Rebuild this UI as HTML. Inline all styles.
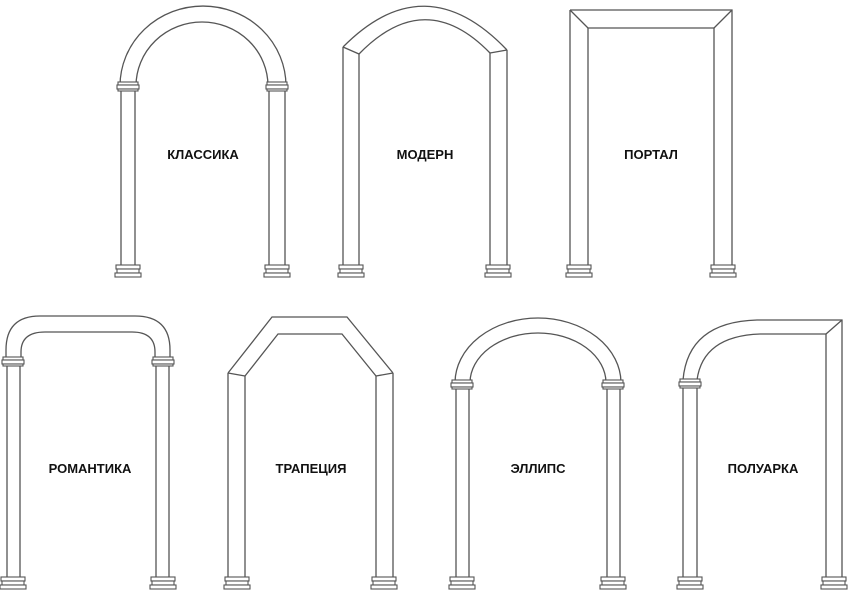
<!DOCTYPE html>
<html><head><meta charset="utf-8"><style>
html,body{margin:0;padding:0;background:#fff;width:850px;height:590px;overflow:hidden}
text{font-family:"Liberation Sans",Arial,sans-serif;font-weight:bold;font-size:13px;fill:#111}
</style></head><body>
<svg width="850" height="590" viewBox="0 0 850 590" xmlns="http://www.w3.org/2000/svg">
<defs>
<g id="base" fill="#fff" stroke="#555" stroke-width="1.1">
<rect x="-12" y="0" width="24" height="4"/>
<rect x="-11" y="4" width="22" height="4"/>
<rect x="-13" y="8" width="26" height="4"/>
</g>
<g id="cap" fill="#fff" stroke="#555" stroke-width="1.1">
<rect x="-10" y="0" width="20" height="3"/>
<rect x="-11" y="3" width="22" height="4"/>
<rect x="-10" y="7" width="20" height="2"/>
</g>
</defs>
<g fill="none" stroke="#555" stroke-width="1.3">
<path d="M120 86 A83 80 0 0 1 286 86"/>
<path d="M136 86 A66 64 0 0 1 268 86"/>
<path d="M121 90 V265 M135 90 V265 M269 90 V265 M285 90 V265"/>
<path d="M343 47 Q425 -36 507 50"/>
<path d="M359 54 Q425 -14 490 53"/>
<path d="M343 47 L359 54 M507 50 L490 53"/>
<path d="M343 47 V265 M359 54 V265 M490 53 V265 M507 50 V265"/>
<path d="M570 10 H732 V265 M570 10 V265"/>
<path d="M588 28 H714 V265 M588 28 V265"/>
<path d="M570 10 L588 28 M732 10 L714 28"/>
<path d="M6 360 V350 Q6 316 40 316 H135 Q170 316 170 350 V360"/>
<path d="M21 360 V352 Q21 332 45 332 H132 Q155 332 155 352 V360"/>
<path d="M7 366 V577 M20 366 V577 M156 366 V577 M169 366 V577"/>
<path d="M228 373 L272 317 H347 L393 373"/>
<path d="M245 376 L278 334 H342 L376 376"/>
<path d="M228 373 L245 376 M393 373 L376 376"/>
<path d="M228 373 V577 M245 376 V577 M376 376 V577 M393 373 V577"/>
<path d="M455 383 A83 65 0 0 1 621 383"/>
<path d="M470 383 A68 50 0 0 1 606 383"/>
<path d="M456 389 V577 M469 389 V577 M607 389 V577 M620 389 V577"/>
<path d="M683 380 Q688 322 757 320 H842 V577"/>
<path d="M697 380 Q703 336 760 334 H826 V577"/>
<path d="M842 320 L826 334"/>
<path d="M683 388 V577 M697 388 V577"/>
</g>
<use href="#cap" x="128" y="82"/><use href="#cap" x="277" y="82"/>
<use href="#cap" x="13" y="357"/><use href="#cap" x="163" y="357"/>
<use href="#cap" x="462" y="380"/><use href="#cap" x="613" y="380"/>
<use href="#cap" x="690" y="379"/>
<use href="#base" x="128" y="265"/><use href="#base" x="277" y="265"/>
<use href="#base" x="351" y="265"/><use href="#base" x="498" y="265"/>
<use href="#base" x="579" y="265"/><use href="#base" x="723" y="265"/>
<use href="#base" x="13" y="577"/><use href="#base" x="163" y="577"/>
<use href="#base" x="237" y="577"/><use href="#base" x="384" y="577"/>
<use href="#base" x="462" y="577"/><use href="#base" x="613" y="577"/>
<use href="#base" x="690" y="577"/><use href="#base" x="834" y="577"/>
<text x="203" y="159" text-anchor="middle">КЛАССИКА</text>
<text x="425" y="159" text-anchor="middle">МОДЕРН</text>
<text x="651" y="159" text-anchor="middle">ПОРТАЛ</text>
<text x="90" y="473" text-anchor="middle">РОМАНТИКА</text>
<text x="311" y="473" text-anchor="middle">ТРАПЕЦИЯ</text>
<text x="538" y="473" text-anchor="middle">ЭЛЛИПС</text>
<text x="763" y="473" text-anchor="middle">ПОЛУАРКА</text>
</svg>
</body></html>
